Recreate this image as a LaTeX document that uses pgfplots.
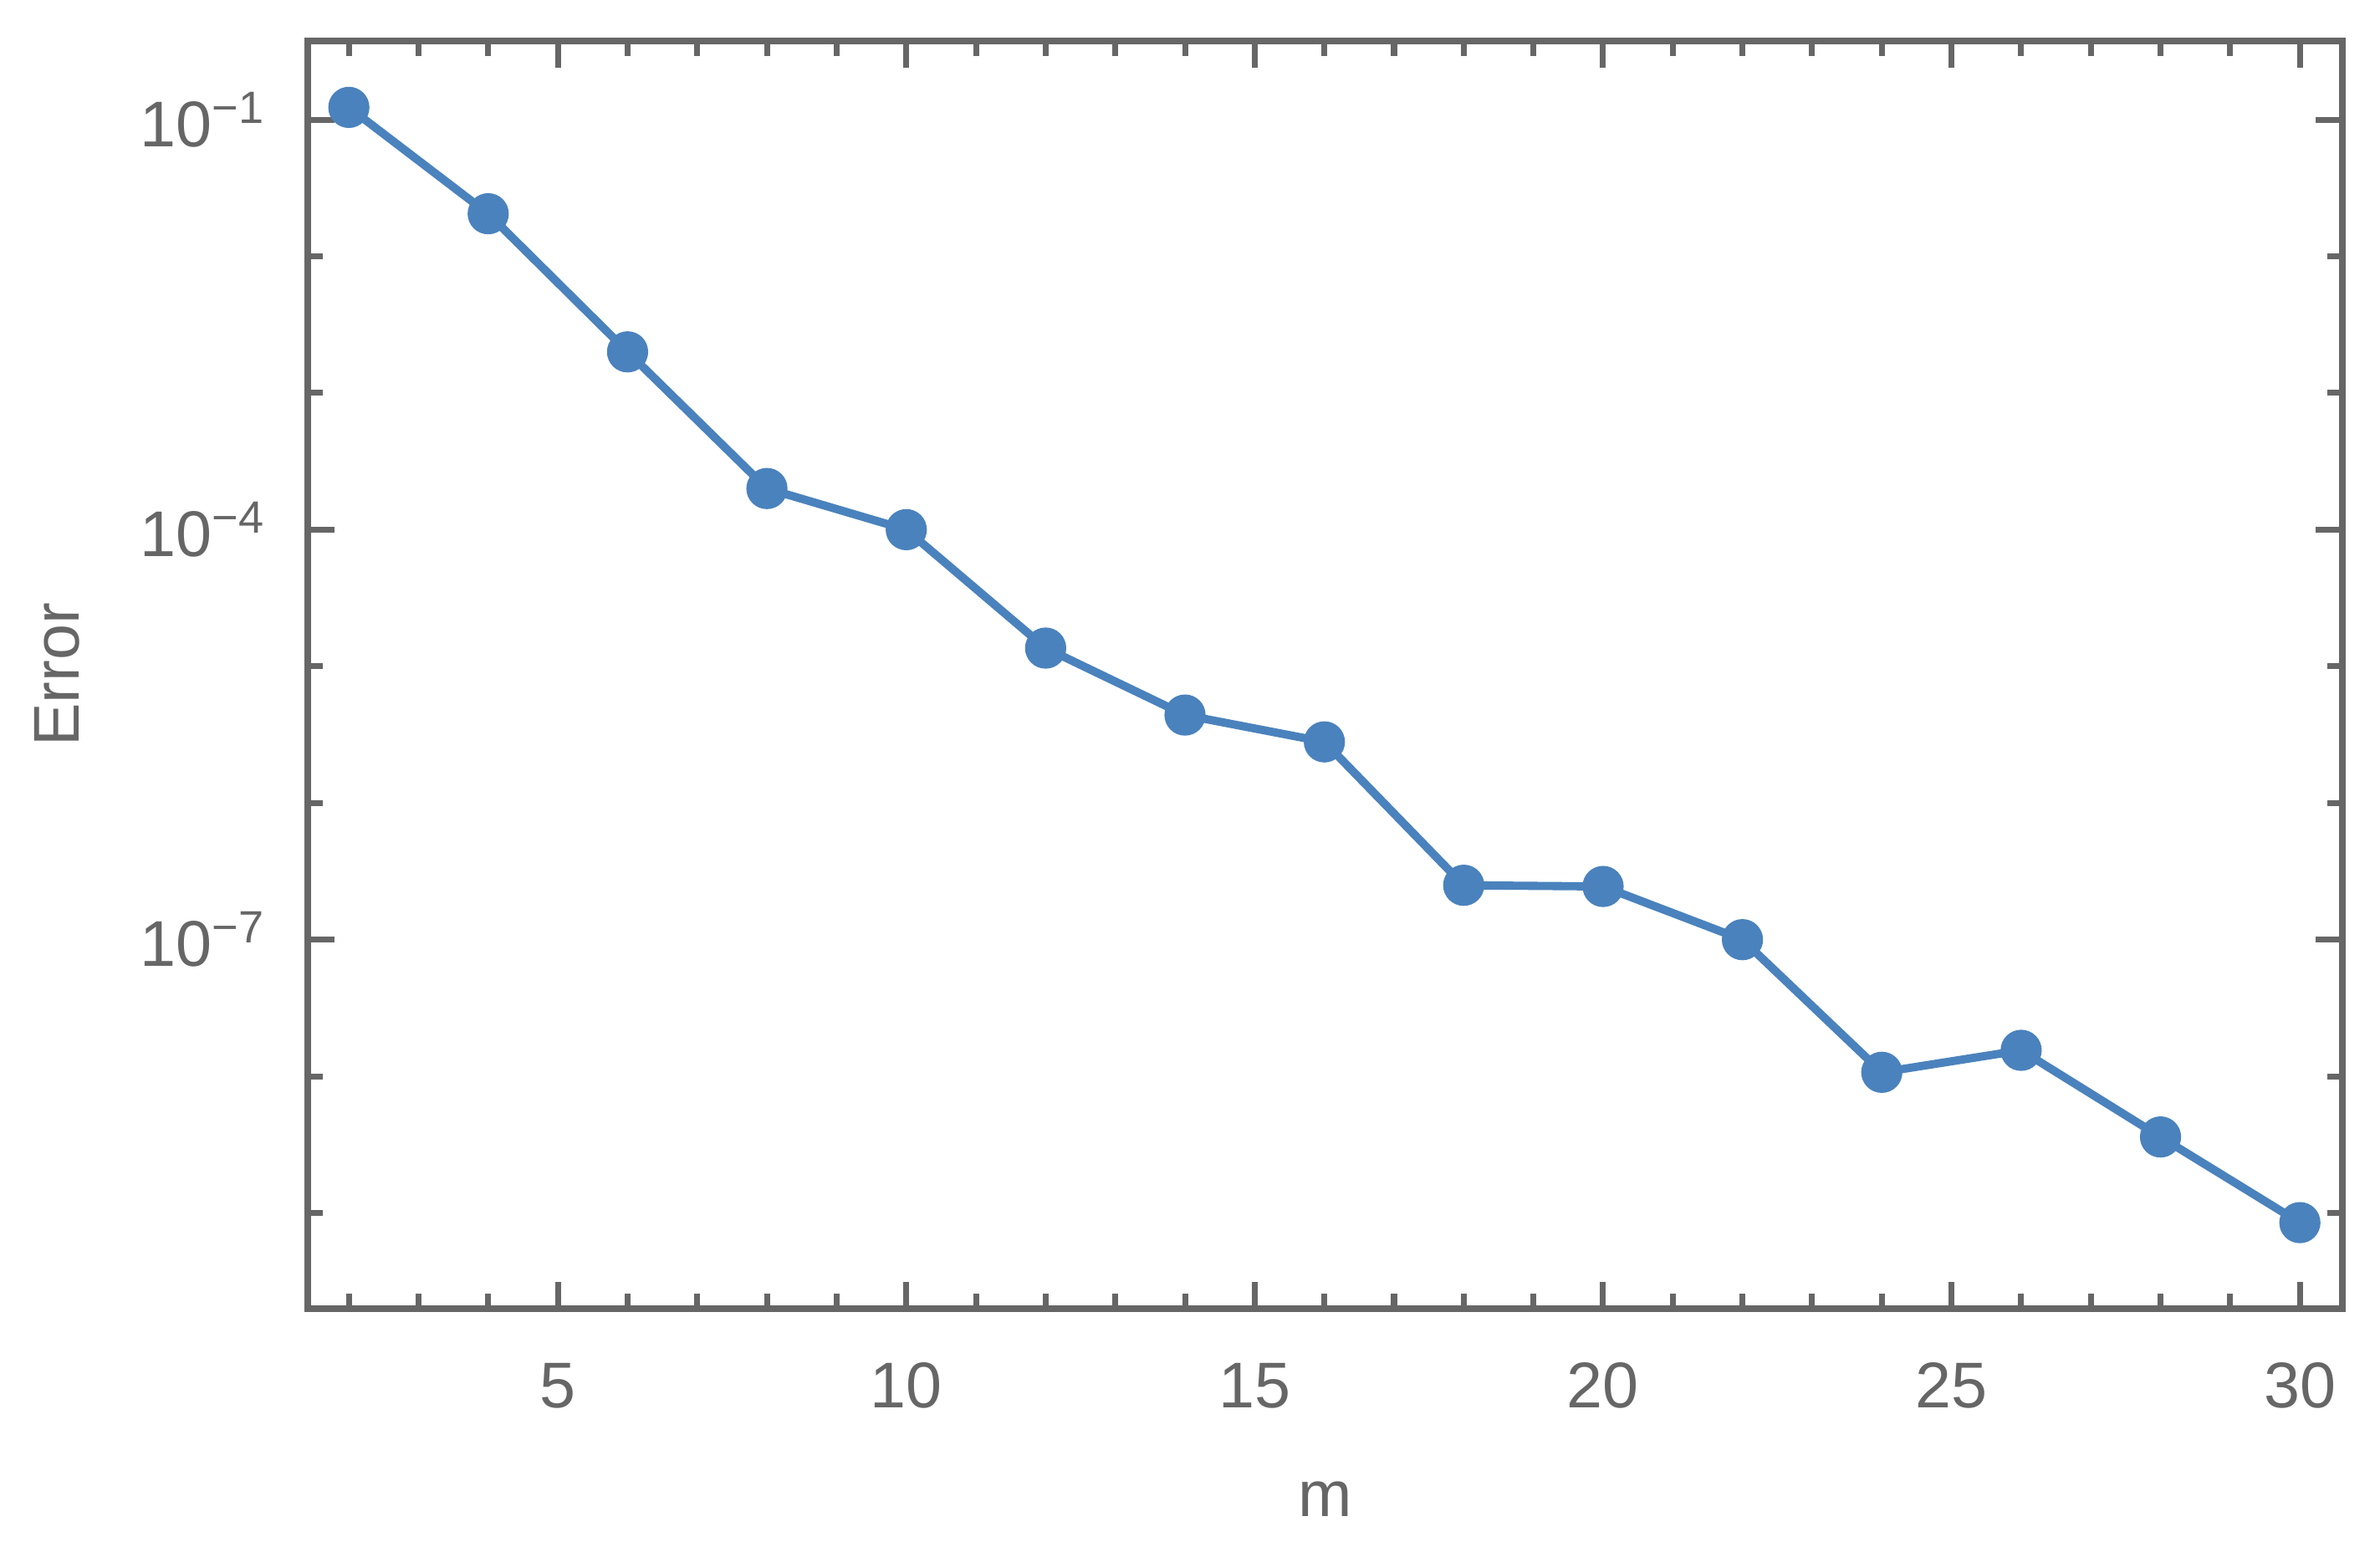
\documentclass[border=0pt]{standalone}
\usepackage{fontspec}
\setmainfont{Liberation Sans}
\usepackage{pgfplots}
\pgfplotsset{compat=1.18}
\definecolor{mblue}{RGB}{74,130,189}
\definecolor{frame}{RGB}{102,102,102}
\begin{document}
\begin{tikzpicture}
\begin{axis}[name=ax,
  scale only axis, width=12.165cm, height=7.58cm,
  ymode=log, log basis y=10,
  xmin=1.41, xmax=30.61,
  ymin=1.995e-10, ymax=0.3767,
  axis line style={frame, line width=1.1pt},
  tick style={frame, line width=1pt},
  major tick length=0.16cm, minor tick length=0.09cm,
  xtick={5,10,15,20,25,30},
  minor xtick={2,3,4,6,7,8,9,11,12,13,14,16,17,18,19,21,22,23,24,26,27,28,29},
  ytick={1e-1,1e-4,1e-7},
  yticklabels={10\textsuperscript{−1},10\textsuperscript{−4},10\textsuperscript{−7}},
  minor ytick={1e-2,1e-3,1e-5,1e-6,1e-8,1e-9},
  tick label style={font=\fontsize{11}{13}\selectfont, text=frame},
  /pgf/number format/assume math mode=true,
  xticklabel style={yshift=-0.2cm},
  yticklabel style={xshift=-0.12cm},
  xlabel={m}, ylabel={Error},
  label style={font=\fontsize{11}{13}\selectfont, text=frame},
  xlabel style={at={(0.5,0)}, anchor=center, yshift=-1.14cm},
  ylabel style={at={(0,0.5)}, anchor=center, yshift=1.5cm},
]
\addplot[mblue, line width=1.4pt, mark=*, mark size=2.8pt, mark options={fill=mblue, draw=mblue}]
coordinates {
(2,0.123) (4,0.0205) (6,0.0020) (8,2.0e-4) (10,1.0e-4)
(12,1.36e-5) (14,4.4e-6) (16,2.8e-6) (18,2.5e-7) (20,2.45e-7)
(22,1.0e-7) (24,1.07e-8) (26,1.55e-8) (28,3.6e-9) (30,8.5e-10)
};
\end{axis}
\pgfresetboundingbox
\path ([xshift=-1.84cm,yshift=-1.425cm]ax.south west) rectangle ([xshift=0.225cm,yshift=0.245cm]ax.north east);
\end{tikzpicture}
\end{document}
